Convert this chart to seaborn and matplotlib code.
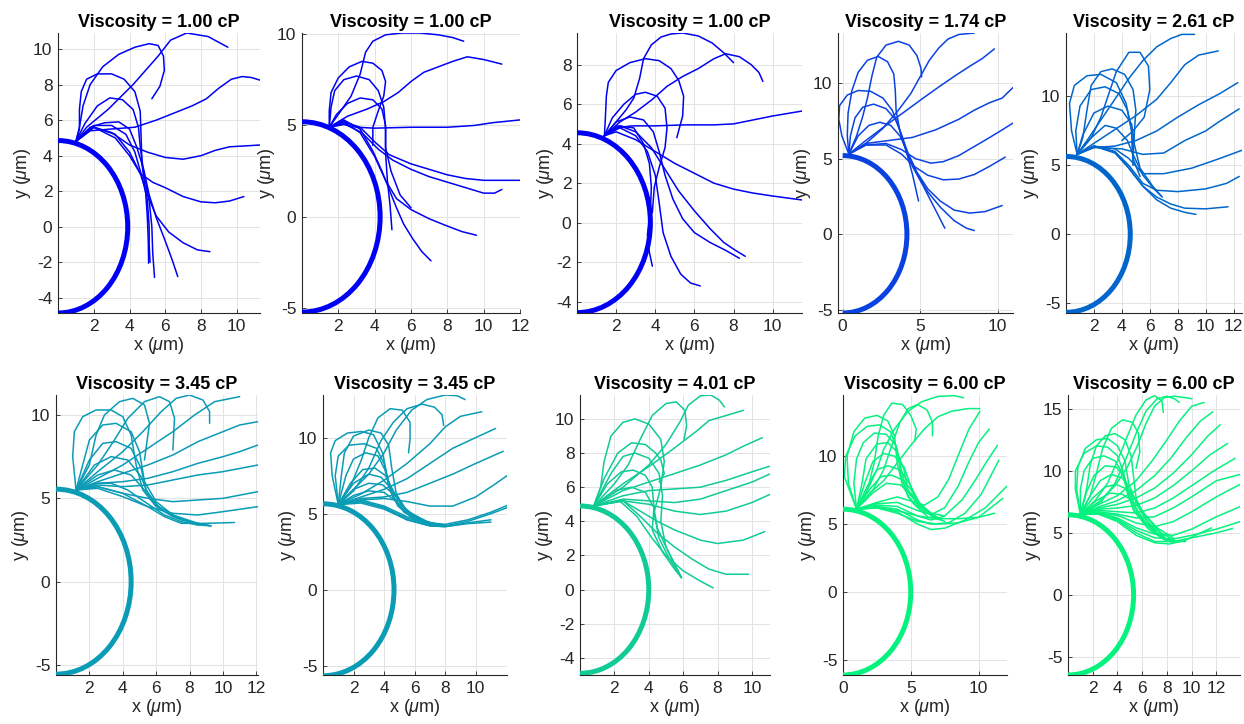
import matplotlib
matplotlib.use("Agg")
import matplotlib.pyplot as plt
from matplotlib.patches import Arc
import pandas as pd
import seaborn as sns

# ---------------- data ----------------
VISCOSITY = [1.00, 1.00, 1.00, 1.74, 2.61, 3.45, 3.45, 4.01, 6.00, 6.00]
COLORS = ["#0000f5", "#0000f5", "#0000f5", "#0a42e2", "#0066cc",
          "#0a9bb5", "#0a9bb5", "#10cb96", "#05f27f", "#05f27f"]
# cell boundary semi-axes (x, y) in um
CELL_A = [3.9, 4.3, 3.75, 4.15, 4.6, 4.5, 4.65, 4.0, 5.0, 5.3]
CELL_B = [4.85, 5.2, 4.55, 5.2, 5.65, 5.55, 5.65, 4.9, 6.1, 6.45]
XLIM = [(0, 11.3), (0, 12), (0, 11.5), (-0.3, 11.0), (0, 12.6),
        (0, 12.1), (0, 12.05), (0, 11.05), (0, 12.1), (0, 13.9)]
YLIM = [(-4.85, 10.9), (-5.25, 10.05), (-4.57, 9.6), (-5.2, 13.3), (-5.7, 14.6),
        (-5.6, 11.2), (-5.6, 12.8), (-5.0, 11.4), (-6.1, 14.5), (-6.45, 16.1)]
XTICKS = [[2, 4, 6, 8, 10], [2, 4, 6, 8, 10, 12], [2, 4, 6, 8, 10], [0, 5, 10],
          [2, 4, 6, 8, 10, 12], [2, 4, 6, 8, 10, 12], [2, 4, 6, 8, 10],
          [2, 4, 6, 8, 10], [0, 5, 10], [2, 4, 6, 8, 10, 12]]
YTICKS = [[-4, -2, 0, 2, 4, 6, 8, 10], [-5, 0, 5, 10], [-4, -2, 0, 2, 4, 6, 8],
          [-5, 0, 5, 10], [-5, 0, 5, 10], [-5, 0, 5, 10], [-5, 0, 5, 10],
          [-4, -2, 0, 2, 4, 6, 8, 10], [-5, 0, 5, 10], [-5, 0, 5, 10, 15]]

P1 = [
    [(1.0,4.8),(1.6,5.6),(2.8,6.6),(4.2,8.0),(5.6,9.6),(6.3,10.5),(7.2,10.9),(8.4,10.7),(9.5,10.1)],
    [(1.0,4.8),(1.2,5.6),(1.4,6.8),(1.8,8.0),(2.5,9.0),(3.4,9.7),(4.3,10.1),(5.1,10.3),(5.6,10.2),(5.9,9.6),(5.95,8.8),(5.7,7.9),(5.25,7.2)],
    [(1.0,4.8),(1.2,5.5),(1.2,6.6),(1.3,7.6),(1.6,8.3),(2.2,8.6),(3.0,8.6),(3.7,8.3),(4.3,7.6),(4.6,6.5),(4.65,5.0),(4.7,3.5),(4.9,2.0),(5.0,0.5),(5.05,-0.8),(5.07,-2.05)],
    [(1.0,4.8),(1.5,5.8),(2.2,6.8),(2.9,7.25),(3.6,7.15),(4.2,6.6),(4.5,5.6),(4.6,4.5),(4.8,3.0),(5.1,1.5),(5.25,0.0),(5.3,-1.5),(5.4,-2.85)],
    [(1.0,4.8),(1.8,5.6),(2.6,5.85),(3.4,5.9),(4.0,5.5),(4.4,4.5),(4.8,3.2),(5.1,1.8),(5.5,0.5),(6.0,-0.8),(6.4,-1.9),(6.7,-2.8)],
    [(1.0,4.8),(1.8,5.4),(3.0,5.5),(4.3,5.6),(5.5,6.0),(6.5,6.4),(7.5,6.8),(8.3,7.2),(9.0,7.8),(9.7,8.3),(10.3,8.45),(10.8,8.4),(11.3,8.25)],
    [(1.0,4.8),(2.0,5.6),(3.0,5.3),(4.0,4.6),(5.0,4.2),(6.0,3.9),(7.0,3.8),(8.0,4.0),(8.8,4.3),(9.6,4.5),(10.5,4.55),(11.3,4.6)],
    [(1.0,4.8),(2.0,5.6),(3.2,5.0),(4.0,4.0),(4.6,3.0),(5.3,2.5),(6.0,2.2),(7.0,1.7),(8.0,1.4),(8.8,1.35),(9.6,1.45),(10.4,1.7)],
    [(1.0,4.8),(2.0,5.6),(3.2,5.2),(4.0,4.2),(4.6,3.0),(5.0,1.8),(5.5,0.6),(6.2,-0.3),(7.0,-0.9),(7.8,-1.3),(8.5,-1.4)],
    [(1.0,4.8),(2.0,5.7),(3.0,5.7),(3.8,5.2),(4.3,4.2),(4.7,2.8),(5.0,1.5),(5.1,0.0),(5.1,-1.0),(5.15,-2.0)],
]

P2 = [
    [(1.5,4.9),(2.0,5.6),(2.7,6.6),(3.2,7.8),(3.5,9.0),(3.9,9.6),(4.6,9.95),(5.5,10.05),(6.5,10.05),(7.5,9.95),(8.3,9.8),(8.9,9.6)],
    [(1.5,4.9),(2.5,5.5),(3.6,5.9),(4.5,6.3),(5.3,6.8),(6.0,7.4),(6.7,7.9),(7.5,8.2),(8.3,8.5),(9.1,8.75),(10.0,8.6),(11.0,8.35)],
    [(1.5,4.9),(2.3,5.05),(3.0,4.9),(4.0,4.85),(6.0,4.9),(8.0,4.9),(9.5,5.0),(10.5,5.15),(12.0,5.3)],
    [(1.5,4.9),(1.5,5.8),(1.6,6.8),(2.0,7.6),(2.6,8.2),(3.3,8.5),(3.9,8.4),(4.4,8.0),(4.6,7.4),(4.5,6.6),(4.2,5.8),(3.9,4.9),(3.9,3.9)],
    [(1.5,4.9),(1.6,6.0),(1.8,6.9),(2.3,7.5),(3.0,7.7),(3.7,7.5),(4.2,6.9),(4.5,6.0),(4.6,4.8),(4.6,3.5),(4.7,2.0),(4.85,0.6),(4.95,-0.7)],
    [(1.5,4.9),(1.9,5.6),(2.5,6.2),(3.2,6.5),(3.9,6.4),(4.4,5.9),(4.6,5.0),(4.6,3.8),(4.9,2.5),(5.4,1.2),(6.0,0.5)],
    [(1.5,4.9),(2.3,5.2),(3.2,4.9),(4.0,4.1),(4.8,3.4),(6.0,2.9),(7.0,2.6),(8.0,2.3),(9.0,2.1),(10.0,2.0),(11.0,2.0),(12.0,2.0)],
    [(1.5,4.9),(2.3,5.1),(3.3,4.6),(4.2,3.7),(5.0,3.1),(6.0,2.6),(7.0,2.2),(8.0,1.9),(9.0,1.6),(10.0,1.3),(10.6,1.3),(11.0,1.5)],
    [(1.5,4.9),(2.3,5.2),(3.2,4.6),(4.0,3.3),(4.6,2.0),(5.2,1.0),(6.0,0.4),(7.0,-0.1),(8.0,-0.5),(8.8,-0.8),(9.6,-1.0)],
    [(1.5,4.9),(2.3,5.3),(3.2,4.8),(3.9,3.6),(4.4,2.5),(4.8,1.5),(5.2,0.5),(5.6,-0.4),(6.1,-1.2),(6.6,-1.9),(7.1,-2.4)],
]

P3 = [
    [(1.4,4.4),(2.0,5.1),(2.5,5.7),(2.9,6.3),(3.2,7.3),(3.4,8.3),(3.8,9.0),(4.3,9.4),(4.8,9.55),(5.4,9.6),(6.2,9.45),(6.9,9.1),(7.5,8.6),(8.0,8.1)],
    [(1.4,4.4),(2.2,5.1),(3.0,5.6),(3.8,6.2),(4.6,6.9),(5.4,7.4),(6.2,7.8),(7.0,8.3),(7.6,8.55),(8.3,8.4),(8.9,8.0),(9.3,7.6),(9.5,7.15)],
    [(1.4,4.4),(1.45,5.3),(1.5,6.4),(1.6,7.1),(2.0,7.7),(2.7,8.1),(3.5,8.3),(4.2,8.2),(4.8,7.8),(5.2,7.2),(5.45,6.4),(5.4,5.4),(5.1,4.3)],
    [(1.4,4.4),(1.8,5.3),(2.4,6.0),(3.0,6.5),(3.5,6.6),(4.1,6.4),(4.5,5.8),(4.6,4.8),(4.5,3.8),(4.2,2.8),(3.95,1.8),(3.85,0.5)],
    [(1.4,4.4),(2.0,4.8),(2.8,4.9),(4.0,4.9),(5.5,4.95),(7.0,4.95),(8.0,5.0),(9.0,5.2),(10.0,5.4),(11.5,5.65)],
    [(1.4,4.4),(2.0,4.6),(3.0,4.2),(4.0,3.6),(5.0,3.0),(6.0,2.5),(7.0,2.0),(8.0,1.7),(9.0,1.5),(10.0,1.35),(11.5,1.15)],
    [(1.4,4.4),(2.0,5.1),(2.7,5.35),(3.4,5.2),(3.9,4.6),(4.2,3.6),(4.5,2.4),(4.9,1.2),(5.4,0.2),(6.0,-0.5),(6.8,-1.0),(7.6,-1.4),(8.3,-1.8)],
    [(1.4,4.4),(2.2,4.9),(3.0,4.6),(3.8,3.8),(4.5,2.7),(5.2,1.6),(6.0,0.6),(6.8,-0.3),(7.5,-1.0),(8.1,-1.4),(8.6,-1.7)],
    [(1.4,4.4),(2.2,4.8),(3.0,4.4),(3.6,3.6),(4.0,2.4),(4.2,1.0),(4.4,-0.5),(4.8,-1.7),(5.3,-2.6),(5.8,-3.05),(6.3,-3.2)],
    [(1.4,4.4),(2.1,4.9),(2.9,4.8),(3.4,4.0),(3.7,3.0),(3.8,1.8),(3.75,0.6),(3.6,-0.6),(3.7,-1.5),(3.85,-2.2)],
]

P4 = [
    [(0.4,5.3),(1.5,6.0),(2.6,7.0),(3.6,8.2),(4.4,9.3),(5.0,10.4),(5.6,11.5),(6.2,12.3),(6.8,12.9),(7.5,13.2),(8.5,13.3)],
    [(0.4,5.3),(0.9,6.5),(1.3,7.8),(1.6,9.0),(1.9,10.5),(2.2,11.7),(2.8,12.5),(3.6,12.75),(4.3,12.5),(4.8,11.8),(5.05,11.0),(5.1,10.4)],
    [(0.4,5.3),(0.3,6.5),(0.35,8.0),(0.6,9.5),(1.0,10.7),(1.6,11.5),(2.3,11.75),(2.9,11.4),(3.3,10.6),(3.4,9.5),(3.45,8.2),(3.7,6.8),(4.1,5.5),(4.5,4.0),(4.9,2.2)],
    [(0.4,5.3),(-0.05,6.5),(-0.25,7.6),(-0.2,8.5),(0.3,9.2),(1.0,9.5),(1.8,9.45),(2.6,9.0),(3.2,8.2),(3.6,7.2),(4.0,5.8),(4.5,4.5),(5.2,3.2),(5.8,2.0),(6.3,1.0),(6.6,0.4)],
    [(0.4,5.3),(0.5,6.5),(0.8,7.7),(1.3,8.4),(2.0,8.6),(2.8,8.3),(3.4,7.6),(3.8,6.6),(4.2,5.4),(4.8,4.0),(5.5,2.8),(6.3,1.8),(7.2,0.9),(8.0,0.4),(8.5,0.25)],
    [(0.4,5.3),(1.0,6.5),(1.7,7.2),(2.4,7.4),(3.1,7.2),(3.7,6.5),(4.2,5.4),(4.8,4.1),(5.5,3.0),(6.3,2.2),(7.2,1.6),(8.2,1.4),(9.2,1.5),(10.3,1.9)],
    [(0.4,5.3),(1.5,6.2),(2.8,7.2),(4.0,8.1),(5.2,9.0),(6.3,9.8),(7.3,10.5),(8.2,11.1),(9.0,11.6),(9.8,12.25)],
    [(0.4,5.3),(1.5,6.0),(3.0,6.2),(4.5,6.4),(6.0,6.9),(7.5,7.6),(8.5,8.2),(9.5,8.7),(10.3,9.0),(11.0,9.7)],
    [(0.4,5.3),(1.5,5.9),(2.8,6.0),(3.8,5.6),(4.7,5.0),(5.7,4.7),(6.5,4.8),(7.5,5.2),(8.5,5.8),(9.5,6.4),(10.3,6.9),(11.0,7.35)],
    [(0.4,5.3),(1.5,5.9),(2.8,5.9),(3.8,5.3),(4.6,4.5),(5.5,3.9),(6.5,3.6),(7.5,3.65),(8.5,3.95),(9.5,4.5),(10.5,5.1)],
]

P5 = [
    [(0.8,5.8),(1.5,6.8),(2.5,8.3),(3.5,9.8),(4.5,11.3),(5.5,12.6),(6.5,13.6),(7.5,14.2),(8.3,14.5),(9.2,14.5)],
    [(0.8,5.8),(2.0,6.6),(3.5,7.6),(5.0,8.6),(6.5,9.8),(7.5,11.0),(8.5,12.3),(9.5,13.0),(10.9,13.3)],
    [(0.8,5.8),(2.0,6.3),(3.5,6.4),(5.0,6.8),(6.5,7.5),(8.0,8.5),(9.5,9.4),(11.0,10.2),(12.3,11.0)],
    [(0.8,5.8),(2.0,6.3),(4.0,6.2),(5.5,5.8),(7.0,5.9),(8.5,6.8),(10.0,7.5),(11.0,8.2),(12.4,9.1)],
    [(0.8,5.8),(2.0,6.4),(3.5,6.2),(4.5,5.5),(5.5,4.4),(7.0,4.4),(9.0,4.8),(11.0,5.5),(12.6,6.1)],
    [(0.8,5.8),(2.0,6.4),(3.5,6.0),(4.5,5.0),(5.5,3.7),(6.5,3.2),(8.0,3.1),(10.0,3.3),(11.5,3.7),(12.4,4.2)],
    [(0.8,5.8),(2.0,6.4),(3.5,6.0),(4.5,4.8),(5.5,3.5),(6.5,2.7),(7.5,2.2),(8.5,1.9),(10.0,1.85),(11.6,2.0)],
    [(0.8,5.8),(2.0,6.4),(3.5,5.9),(4.5,4.8),(5.5,3.5),(6.5,2.5),(7.5,1.9),(8.5,1.6),(9.3,1.45)],
    [(0.8,5.8),(1.8,7.0),(2.8,7.9),(3.6,7.7),(4.4,6.8),(4.8,5.8),(5.5,4.3),(6.3,3.3),(6.9,2.7)],
    [(0.8,5.8),(1.2,7.2),(2.0,8.8),(3.0,9.3),(4.0,9.0),(4.7,8.0),(4.9,6.5),(5.3,4.8),(6.2,3.5),(6.8,2.8)],
    [(0.8,5.8),(0.7,7.5),(1.0,9.3),(1.8,10.5),(2.8,10.7),(3.8,10.2),(4.4,9.0),(4.7,7.5),(4.8,5.5),(5.3,4.2)],
    [(0.8,5.8),(0.4,7.5),(0.25,9.5),(0.6,10.8),(1.5,11.5),(2.5,11.6),(3.6,11.0),(4.3,9.5),(4.7,7.5),(4.8,5.0)],
    [(0.8,5.8),(1.2,7.0),(1.5,9.0),(1.8,10.8),(2.5,11.8),(3.3,12.0),(4.2,11.6),(4.8,10.5),(5.0,9.0),(4.9,7.5),(4.8,5.5)],
    [(0.8,5.8),(1.8,7.0),(2.5,8.5),(3.0,10.0),(3.6,11.8),(4.5,13.2),(5.3,13.2),(5.9,12.2),(6.0,10.5),(5.6,8.5),(4.8,7.5),(4.0,6.8)],
]

P6 = [
    [(1.2,5.5),(1.0,7.5),(1.1,9.0),(1.6,9.9),(2.4,10.3),(3.3,10.3),(4.0,9.9),(4.5,8.8),(4.8,7.0),(5.2,5.5),(6.0,4.5),(7.0,3.9),(8.0,3.6),(9.2,3.35)],
    [(1.2,5.5),(2.0,7.0),(2.4,8.8),(2.9,10.0),(3.8,10.8),(4.6,11.0),(5.3,10.6),(5.6,9.5),(5.3,7.3)],
    [(1.2,5.5),(2.5,7.0),(3.5,8.5),(4.3,9.8),(5.3,10.8),(6.2,11.1),(6.8,10.8),(7.1,9.8),(7.0,7.9)],
    [(1.2,5.5),(2.5,6.6),(4.0,7.8),(5.2,9.0),(6.3,10.2),(7.2,11.0),(8.0,11.2),(8.8,10.9),(9.2,10.2),(9.2,9.5)],
    [(1.2,5.5),(2.5,6.2),(4.0,7.0),(5.5,8.0),(7.0,9.0),(8.3,10.0),(9.5,10.8),(11.0,11.1)],
    [(1.2,5.5),(2.5,6.0),(4.0,6.5),(5.5,7.0),(7.0,7.6),(8.5,8.4),(10.0,9.0),(11.0,9.4),(12.1,9.6)],
    [(1.2,5.5),(2.5,5.9),(4.0,6.0),(5.5,6.2),(7.0,6.6),(8.5,7.1),(10.0,7.5),(11.0,7.8),(12.1,8.2)],
    [(1.2,5.5),(2.5,5.8),(4.0,5.7),(5.5,5.8),(7.0,6.1),(8.5,6.4),(10.0,6.6),(12.1,7.0)],
    [(1.2,5.5),(2.5,5.7),(4.0,5.3),(5.5,5.0),(7.0,4.8),(8.5,4.9),(10.0,5.0),(12.1,5.4)],
    [(1.2,5.5),(2.5,5.6),(4.0,5.1),(5.5,4.5),(7.0,4.1),(8.5,4.0),(10.0,4.2),(12.1,4.5)],
    [(1.2,5.5),(2.5,5.7),(4.0,5.3),(5.5,4.5),(6.5,3.9),(7.5,3.5),(9.0,3.5),(10.7,3.55)],
    [(1.2,5.5),(1.6,7.0),(2.0,8.5),(2.8,9.4),(3.6,9.5),(4.5,9.0),(5.0,7.8),(5.3,6.0),(6.0,4.8),(7.0,4.0),(8.5,3.4),(9.3,3.35)],
    [(1.2,5.5),(2.0,7.3),(2.8,8.3),(3.6,8.4),(4.5,8.0),(5.1,6.8),(5.4,5.5),(6.2,4.4),(7.3,3.8),(8.8,3.4)],
    [(1.2,5.5),(2.3,7.0),(3.3,7.5),(4.3,7.3),(5.1,6.3),(5.6,5.0),(6.5,4.2),(7.5,3.7),(8.8,3.4)],
    [(1.2,5.5),(2.5,6.4),(3.5,6.7),(4.5,6.4),(5.3,5.5),(6.0,4.6),(7.0,4.0),(8.5,3.5),(9.3,3.35)],
    [(1.2,5.5),(2.3,5.9),(3.3,5.9),(4.3,5.5),(5.3,4.8),(6.5,4.0),(7.5,3.6),(8.5,3.4)],
]

P7 = [
    [(1.0,5.6),(2.0,6.6),(3.0,7.6),(4.0,9.0),(4.8,10.5),(5.8,11.8),(6.8,12.5),(8.0,12.8),(8.8,12.75),(9.3,12.5)],
    [(1.0,5.6),(2.0,6.5),(3.0,8.0),(3.8,9.8),(4.6,11.0),(5.5,11.9),(6.5,12.2),(7.3,12.0),(7.8,11.5),(7.9,10.8)],
    [(1.0,5.6),(1.8,6.8),(2.5,8.5),(3.0,10.0),(3.6,11.3),(4.4,11.9),(5.2,11.8),(5.7,11.0),(5.7,9.9),(5.6,9.0)],
    [(1.0,5.6),(2.5,6.3),(4.0,7.2),(5.5,8.3),(7.0,9.6),(8.0,10.7),(9.0,11.4),(10.4,11.7)],
    [(1.0,5.6),(2.5,6.1),(4.0,6.6),(5.5,7.3),(7.0,8.3),(8.5,9.3),(10.0,10.0),(11.3,10.6)],
    [(1.0,5.6),(2.5,6.0),(4.0,6.1),(5.5,6.4),(7.0,7.0),(8.5,7.6),(10.0,8.3),(11.8,9.1)],
    [(1.0,5.6),(2.5,5.9),(4.0,6.0),(5.5,5.8),(7.0,5.5),(8.5,5.5),(10.0,6.1),(11.2,6.9),(12.2,7.6)],
    [(1.0,5.6),(2.5,5.9),(4.0,5.5),(5.5,4.8),(7.0,4.4),(8.0,4.3),(9.5,4.6),(11.0,5.1),(12.2,5.6)],
    [(1.0,5.6),(2.5,5.8),(4.0,5.4),(5.5,4.7),(7.0,4.3),(8.0,4.2),(9.5,4.5),(11.0,5.0),(12.2,5.45)],
    [(1.0,5.6),(2.5,5.8),(4.0,5.4),(5.5,4.6),(7.0,4.2),(8.0,4.15),(9.5,4.4),(11.0,4.6)],
    [(1.0,5.6),(2.5,5.7),(4.0,5.3),(5.5,4.6),(7.0,4.2),(8.0,4.15),(9.5,4.35),(11.0,4.45)],
    [(1.0,5.6),(1.2,7.5),(1.4,9.0),(2.0,10.1),(3.0,10.5),(3.8,10.3),(4.3,9.5),(4.5,8.0),(4.8,6.3),(5.6,5.0),(6.8,4.4),(8.0,4.2)],
    [(1.0,5.6),(0.6,7.5),(0.5,9.0),(0.8,9.8),(1.6,10.3),(2.5,10.4),(3.3,10.2),(3.9,9.0),(4.2,7.5),(4.6,6.0),(5.5,5.0),(6.8,4.3),(8.0,4.2)],
    [(1.0,5.6),(0.8,7.5),(1.0,8.8),(1.7,9.5),(2.7,9.6),(3.5,9.3),(4.0,8.3),(4.3,6.8),(4.9,5.5),(6.0,4.6),(7.5,4.2)],
    [(1.0,5.6),(1.5,7.5),(2.0,8.6),(2.8,9.0),(3.6,8.8),(4.1,7.8),(4.5,6.3),(5.3,5.1),(6.5,4.5),(8.0,4.2)],
    [(1.0,5.6),(1.8,7.0),(2.6,7.9),(3.4,8.0),(4.1,7.5),(4.6,6.5),(5.4,5.2),(6.6,4.5),(8.0,4.2)],
    [(1.0,5.6),(2.0,7.0),(3.0,7.6),(3.8,7.4),(4.5,6.6),(5.2,5.5),(6.3,4.6),(7.8,4.2)],
    [(1.0,5.6),(2.0,6.6),(3.0,7.0),(3.9,6.9),(4.7,6.2),(5.5,5.2),(6.7,4.5),(8.0,4.2)],
    [(1.0,5.6),(2.0,6.2),(3.0,6.5),(4.0,6.4),(4.8,5.8),(5.8,5.0),(7.0,4.4),(8.2,4.2)],
]

P8 = [
    [(0.8,4.9),(2.5,6.0),(4.0,7.3),(5.0,8.5),(5.8,9.8),(6.3,10.8),(7.0,11.35),(7.6,11.4),(8.1,11.1),(8.4,10.7)],
    [(0.8,4.9),(2.0,6.2),(2.8,7.3),(3.5,8.8),(4.2,10.2),(5.0,10.9),(5.6,11.0),(6.1,10.5),(6.2,9.6),(6.05,8.8)],
    [(0.8,4.9),(1.2,6.0),(1.4,7.5),(1.8,9.0),(2.5,9.8),(3.2,10.0),(4.0,9.7),(4.7,8.8),(4.9,7.5),(4.7,6.0),(4.3,4.5),(4.6,3.0),(5.2,1.8),(5.9,0.7)],
    [(0.8,4.9),(2.5,6.2),(4.0,7.2),(5.5,8.3),(6.8,9.3),(7.5,9.9),(8.5,10.2),(9.5,10.5)],
    [(0.8,4.9),(2.5,5.8),(4.0,6.3),(5.5,6.8),(7.0,7.3),(8.5,7.9),(9.5,8.4),(10.6,8.9)],
    [(0.8,4.9),(2.5,5.5),(4.0,5.8),(5.5,5.9),(7.0,6.0),(8.5,6.4),(10.0,6.9),(11.1,7.25)],
    [(0.8,4.9),(2.5,5.3),(4.0,5.2),(5.5,5.1),(7.0,5.3),(8.5,5.8),(10.0,6.3),(11.1,6.8)],
    [(0.8,4.9),(2.5,5.2),(4.0,5.0),(5.5,4.6),(7.0,4.4),(8.5,4.6),(10.0,5.1),(11.1,5.6)],
    [(0.8,4.9),(2.5,5.2),(3.5,4.6),(4.5,4.0),(5.5,3.5),(7.0,2.9),(8.0,2.7),(9.5,2.9),(10.75,3.4)],
    [(0.8,4.9),(2.5,5.2),(3.5,4.3),(4.5,3.3),(5.5,2.5),(6.5,1.8),(7.5,1.2),(8.5,0.9),(9.8,0.9)],
    [(0.8,4.9),(2.3,5.2),(3.3,4.3),(4.2,3.0),(5.0,2.0),(6.0,1.1),(7.0,0.5),(7.75,0.1)],
    [(0.8,4.9),(1.4,6.5),(2.2,8.0),(3.0,8.6),(3.8,8.5),(4.4,8.0),(4.7,7.6),(4.9,6.8),(4.6,6.3)],
    [(0.8,4.9),(1.8,6.8),(2.5,7.8),(3.2,8.0),(4.0,7.7),(4.6,6.8),(4.8,5.5),(4.7,4.0),(5.0,2.5),(5.5,1.5),(5.9,0.7)],
    [(0.8,4.9),(1.6,6.2),(2.4,6.9),(3.1,7.0),(3.8,6.7),(4.2,6.0),(4.3,4.8),(4.2,3.5),(4.8,2.2),(5.5,1.2),(5.9,0.7)],
    [(0.8,4.9),(2.0,5.8),(3.0,6.0),(3.8,5.7),(4.3,4.8),(4.5,3.6),(5.0,2.5),(5.6,1.3),(5.9,0.7)],
]

P9 = [
    [(1.0,6.1),(1.8,7.5),(2.5,9.0),(3.0,10.5),(3.8,12.0),(4.8,13.3),(5.8,14.0),(7.0,14.4),(8.2,14.45),(8.9,14.3)],
    [(1.0,6.1),(2.0,7.3),(3.0,8.2),(4.0,9.5),(5.0,10.8),(6.0,12.0),(7.0,12.9),(8.0,13.3),(9.2,13.5),(10.1,13.5)],
    [(1.0,6.1),(2.5,6.6),(4.0,7.0),(5.0,6.7),(6.0,6.4),(7.0,7.0),(7.8,8.3),(8.6,10.3),(9.3,12.0),(10.1,13.3)],
    [(1.0,6.1),(2.5,6.5),(4.0,6.6),(5.5,6.0),(6.5,5.7),(7.5,6.2),(8.5,7.8),(9.3,9.6),(10.0,11.0),(10.8,12.0)],
    [(1.0,6.1),(2.5,6.4),(4.0,6.3),(5.5,5.6),(6.5,5.3),(7.5,5.6),(8.8,6.8),(9.8,8.3),(10.6,9.6),(11.4,10.8)],
    [(1.0,6.1),(2.5,6.3),(4.0,6.1),(5.5,5.3),(6.5,5.0),(7.8,5.1),(9.0,5.8),(10.2,7.2),(11.5,9.7)],
    [(1.0,6.1),(2.5,6.2),(4.0,5.9),(5.5,5.0),(6.5,4.6),(7.5,4.7),(9.0,5.3),(10.5,6.2),(12.1,7.8)],
    [(1.0,6.1),(2.5,6.2),(4.0,5.8),(5.5,5.2),(7.0,5.0),(8.5,5.1),(10.0,5.5),(11.8,6.9)],
    [(1.0,6.1),(2.5,6.2),(4.0,6.0),(5.5,5.6),(7.0,5.4),(8.5,5.4),(10.0,5.5),(11.2,5.8)],
    [(1.0,6.1),(1.8,7.5),(2.3,9.5),(2.6,11.5),(3.0,13.0),(3.6,13.9),(4.4,13.8),(5.0,13.0),(5.4,12.0),(5.3,11.1)],
    [(1.0,6.1),(2.2,7.5),(3.0,9.0),(3.6,10.8),(4.2,12.5),(4.8,13.5),(5.5,13.8),(6.2,13.4),(6.6,12.5),(6.6,11.5)],
    [(1.0,6.1),(0.4,8.0),(0.3,10.0),(0.8,11.8),(1.6,12.8),(2.5,13.0),(3.3,12.6),(3.8,11.5),(4.0,9.5),(4.4,7.8),(5.2,6.5),(6.3,5.5),(7.3,5.3)],
    [(1.0,6.1),(0.1,8.5),(0.2,10.0),(0.9,11.5),(1.8,12.2),(2.7,12.3),(3.5,11.8),(4.0,10.5),(4.3,8.5),(4.8,7.0),(5.8,6.0),(7.0,5.5)],
    [(1.0,6.1),(0.8,8.0),(1.0,9.8),(1.5,11.0),(2.3,11.7),(3.2,11.6),(3.9,10.8),(4.3,9.0),(4.7,7.5),(5.5,6.5),(6.5,5.8),(7.5,5.6)],
    [(1.0,6.1),(1.4,8.0),(1.7,9.8),(2.5,10.9),(3.3,11.0),(4.0,10.3),(4.5,9.0),(4.8,7.5),(5.6,6.3),(6.8,5.5)],
    [(1.0,6.1),(1.6,8.0),(2.2,9.6),(3.0,10.2),(3.8,10.0),(4.5,9.2),(5.0,7.8),(5.6,6.6),(6.8,5.5)],
    [(1.0,6.1),(1.8,7.8),(2.5,9.0),(3.3,9.3),(4.2,9.0),(4.9,8.0),(5.4,6.8),(6.5,5.6),(7.5,5.2)],
    [(1.0,6.1),(2.0,7.6),(2.8,8.5),(3.6,8.6),(4.5,8.2),(5.2,7.3),(5.8,6.3),(7.0,5.4)],
    [(1.0,6.1),(2.2,7.3),(3.2,8.0),(4.2,7.9),(5.1,7.2),(5.8,6.3),(6.8,5.6)],
]

P10 = [
    [(1.0,6.5),(2.2,7.6),(3.2,9.0),(4.0,10.8),(4.8,12.8),(5.5,14.5),(6.3,15.7),(7.0,16.05),(7.6,15.6),(7.7,14.7)],
    [(1.0,6.5),(2.6,7.4),(3.8,9.0),(4.7,11.0),(5.5,13.0),(6.3,14.8),(7.2,15.8),(8.0,16.0),(8.6,15.8),(9.0,15.5)],
    [(1.0,6.5),(2.5,7.5),(3.8,8.8),(4.8,10.3),(5.6,12.0),(6.3,13.8),(7.0,15.2),(7.8,15.9),(8.6,16.0),(9.4,15.9),(10.0,15.8)],
    [(1.0,6.5),(2.5,7.3),(4.0,8.0),(5.5,9.2),(6.8,10.8),(8.0,12.5),(9.0,14.0),(10.0,15.2),(11.0,15.5)],
    [(1.0,6.5),(2.5,7.1),(4.0,7.6),(5.5,8.4),(7.0,9.6),(8.3,11.0),(9.5,12.6),(10.7,14.0),(11.7,14.75)],
    [(1.0,6.5),(2.5,7.0),(4.0,7.3),(5.5,7.8),(7.0,8.6),(8.5,9.8),(10.0,11.3),(11.3,12.8),(12.3,13.7)],
    [(1.0,6.5),(2.5,6.9),(4.0,7.0),(5.5,7.2),(7.0,7.8),(8.5,8.8),(10.0,10.0),(11.5,11.3),(12.9,12.2)],
    [(1.0,6.5),(2.5,6.8),(4.0,6.7),(5.5,6.6),(7.0,7.0),(8.5,7.8),(10.0,8.8),(11.8,10.0),(13.5,11.0)],
    [(1.0,6.5),(2.5,6.7),(4.0,6.5),(5.5,6.2),(7.0,6.3),(8.5,7.0),(10.0,7.9),(12.0,9.2),(13.9,9.7)],
    [(1.0,6.5),(2.5,6.6),(4.0,6.4),(5.5,5.8),(7.0,5.5),(8.5,5.9),(10.0,6.7),(12.0,7.9),(13.9,8.9)],
    [(1.0,6.5),(2.5,6.6),(4.0,6.2),(5.5,5.4),(7.0,4.9),(8.5,4.8),(10.0,5.3),(12.0,6.3),(13.9,7.1)],
    [(1.0,6.5),(2.5,6.6),(4.0,6.1),(5.5,5.2),(7.0,4.6),(8.5,4.5),(10.0,4.8),(12.0,5.3),(13.9,5.9)],
    [(1.0,6.5),(2.5,6.5),(4.0,6.0),(5.5,5.0),(7.0,4.3),(8.5,4.3),(10.0,4.6),(12.0,5.0),(13.3,5.35)],
    [(1.0,6.5),(2.5,6.5),(4.0,5.9),(5.5,4.8),(7.0,4.2),(8.2,4.1),(9.5,4.4),(10.5,4.9),(11.6,5.4)],
    [(1.0,6.5),(1.8,8.0),(2.3,9.8),(2.8,11.8),(3.5,13.4),(4.4,14.1),(5.2,13.9),(5.7,13.0),(5.8,11.5),(5.5,10.2)],
    [(1.0,6.5),(1.5,8.5),(1.8,10.5),(2.3,12.0),(3.0,12.8),(3.8,13.0),(4.6,12.5),(5.1,11.2),(5.3,9.5),(5.5,7.8),(6.2,6.2),(7.2,5.0),(8.2,4.3),(9.5,4.3)],
    [(1.0,6.5),(0.7,8.5),(0.8,10.3),(1.4,11.8),(2.3,12.5),(3.2,12.6),(4.0,12.0),(4.6,10.8),(4.9,9.0),(5.3,7.3),(6.3,5.8),(7.5,4.7),(8.5,4.2)],
    [(1.0,6.5),(0.6,8.5),(0.6,10.0),(1.3,11.4),(2.3,12.0),(3.2,11.9),(4.0,11.2),(4.5,9.8),(4.8,8.2),(5.4,6.7),(6.5,5.5),(7.8,4.5),(9.0,4.3)],
    [(1.0,6.5),(1.0,8.5),(1.3,10.0),(2.0,11.0),(2.9,11.2),(3.8,10.8),(4.4,9.8),(4.8,8.3),(5.3,6.8),(6.5,5.3),(8.0,4.3)],
    [(1.0,6.5),(1.5,8.3),(2.1,9.6),(3.0,10.4),(3.9,10.3),(4.6,9.4),(5.0,8.0),(5.6,6.6),(6.8,5.2),(8.3,4.3)],
    [(1.0,6.5),(1.8,8.0),(2.6,9.2),(3.5,9.7),(4.4,9.4),(5.1,8.5),(5.6,7.2),(6.5,5.8),(7.8,4.7)],
    [(1.0,6.5),(2.0,7.8),(3.0,8.7),(3.9,8.9),(4.8,8.5),(5.5,7.6),(6.3,6.3),(7.5,5.0),(8.6,4.4)],
    [(1.0,6.5),(2.3,7.6),(3.4,8.2),(4.4,8.1),(5.3,7.5),(6.2,6.5),(7.2,5.4),(8.5,4.6)],
]

PANELS = [P1, P2, P3, P4, P5, P6, P7, P8, P9, P10]

# ---------------- layout (pixel boxes: left, top, right, bottom) ----------------
W, H = 1244, 724
BOXES = [(58, 33, 260, 313), (302, 33, 520, 313), (577, 33, 802, 313),
         (838, 33, 1013, 313), (1066, 33, 1242, 313),
         (56, 395, 258, 675), (323, 395, 507, 675), (580, 395, 770, 675),
         (843, 395, 1007, 675), (1068, 395, 1240, 675)]

sns.set_theme(style="white")
plt.rcParams["font.family"] = ["Liberation Sans", "DejaVu Sans"]
plt.rcParams["mathtext.fontset"] = "custom"
plt.rcParams["mathtext.it"] = "Liberation Sans:italic"
plt.rcParams["mathtext.rm"] = "Liberation Sans"
plt.rcParams["axes.unicode_minus"] = False

fig = plt.figure(figsize=(W / 100, H / 100), dpi=100)
fig.patch.set_facecolor("white")
dark = "#262626"

for i, curves in enumerate(PANELS):
    l, t, r, b = BOXES[i]
    ax = fig.add_axes([l / W, 1 - b / H, (r - l) / W, (b - t) / H])
    rows = []
    for k, c in enumerate(curves):
        for j, (x, y) in enumerate(c):
            rows.append({"curve": k, "order": j, "x": x, "y": y})
    df = pd.DataFrame(rows)
    sns.lineplot(data=df, x="x", y="y", units="curve", estimator=None, sort=False,
                 color=COLORS[i], lw=1.1, ax=ax, legend=False)
    ax.add_patch(Arc((0, 0), 2 * CELL_A[i], 2 * CELL_B[i], theta1=-90, theta2=90,
                     lw=3.6, color=COLORS[i], zorder=3))
    ax.set_xlim(*XLIM[i])
    ax.set_ylim(*YLIM[i])
    ax.set_xticks(XTICKS[i])
    ax.set_yticks(YTICKS[i])
    ax.grid(True, color="#e3e3e3", lw=0.7)
    ax.set_axisbelow(True)
    for s in ["top", "right"]:
        ax.spines[s].set_visible(False)
    for s in ["left", "bottom"]:
        ax.spines[s].set_color(dark)
        ax.spines[s].set_linewidth(0.8)
    ax.tick_params(direction="in", length=3, width=0.6, colors=dark,
                   labelsize=12.5, pad=4, left=True, bottom=True)
    ax.set_xlabel(r"x ($\mu$m)", fontsize=13, color=dark, labelpad=1)
    ax.set_ylabel(r"y ($\mu$m)", fontsize=13, color=dark, labelpad=0)
    ax.set_title(f"Viscosity = {VISCOSITY[i]:.2f} cP", fontsize=13,
                 fontweight="bold", color="black", pad=4)

fig.savefig("out.png", dpi=100)
